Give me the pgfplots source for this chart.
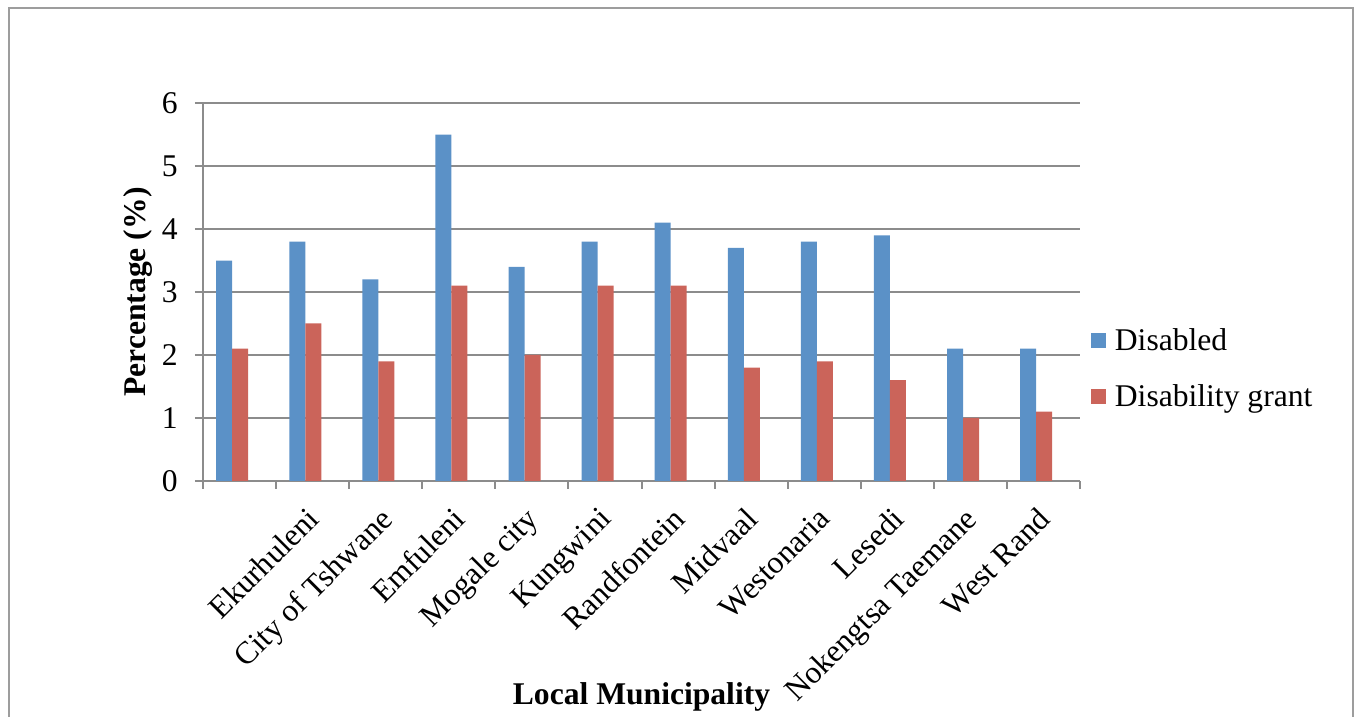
\documentclass[border=0pt]{standalone}
\usepackage{pgfplots}
\pgfplotsset{compat=1.18}
\usepackage{fontspec}
\setmainfont{Liberation Serif}

\definecolor{disblue}{RGB}{91,145,199}
\definecolor{disred}{RGB}{203,100,90}
\definecolor{gridgray}{RGB}{140,140,140}

\pgfplotstableread{
idx disabled grant
0   3.5  2.1
1   3.8  2.5
2   3.2  1.9
3   5.5  3.1
4   3.4  2.0
5   3.8  3.1
6   4.1  3.1
7   3.7  1.8
8   3.8  1.9
9   3.9  1.6
10  2.1  1.0
11  2.1  1.1
}\munidata

\begin{document}
\begin{tikzpicture}[x=1pt,y=1pt]
% page area and outer frame of the chart
\useasboundingbox (0,0) rectangle (678.5,358.5);
\begin{scope}
\clip (0,0) rectangle (678.5,358.5);
\draw[gridgray!85, line width=1pt] (4.5,-10) rectangle (676.5,354.5);
\end{scope}
\begin{axis}[
  at={(101.5pt,118pt)}, anchor=south west,
  scale only axis, width=438.5pt, height=189pt,
  font=\fontsize{15.8}{19}\selectfont,
  /pgf/number format/assume math mode=true,
  xmin=-0.4, xmax=11.6, ymin=0, ymax=6,
  ytick={0,1,...,6},
  xtick={-0.4,0.6,...,11.7},
  xticklabels={,Ekurhuleni,City of Tshwane,Emfuleni,Mogale city,Kungwini,Randfontein,Midvaal,Westonaria,Lesedi,Nokengtsa Taemane,West Rand,},
  axis x line*=bottom, axis y line*=left,
  axis line style={gridgray, line width=1pt, -},
  every tick/.style={gridgray, line width=1pt},
  tick align=outside, major tick length=4pt,
  ymajorgrids, major grid style={gridgray, line width=1pt},
  xticklabel style={xshift=14.6pt, yshift=-8.1pt, rotate=45, anchor=north east, inner sep=0pt},
  yticklabel style={inner sep=0pt, xshift=-8.5pt},
  ylabel={\bfseries Percentage (\%)},
  ylabel style={at={(axis description cs:-0.074,0.5)}, anchor=center},
  xlabel={\bfseries Local Municipality},
  xlabel style={at={(axis description cs:0.5,-0.5926)}, anchor=base},
  ybar, bar width=8pt,
  legend style={draw=none, fill=none, at={(axis description cs:1.012,0.297)}, anchor=west,
    font=\fontsize{15.8}{19}\selectfont, row sep=11.5pt, inner sep=0pt,
    nodes={inner xsep=4.5pt}},
  legend cell align=left,
  legend image code/.code={\fill[#1] (0pt,-3.75pt) rectangle (7.5pt,3.75pt);},
  clip=false,
]
\addplot[draw=none, fill=disblue, bar shift=-4pt] table[x=idx,y=disabled]{\munidata};
\addplot[draw=none, fill=disred, bar shift=4pt] table[x=idx,y=grant]{\munidata};
\legend{Disabled, Disability grant}
\end{axis}
\end{tikzpicture}
\end{document}
